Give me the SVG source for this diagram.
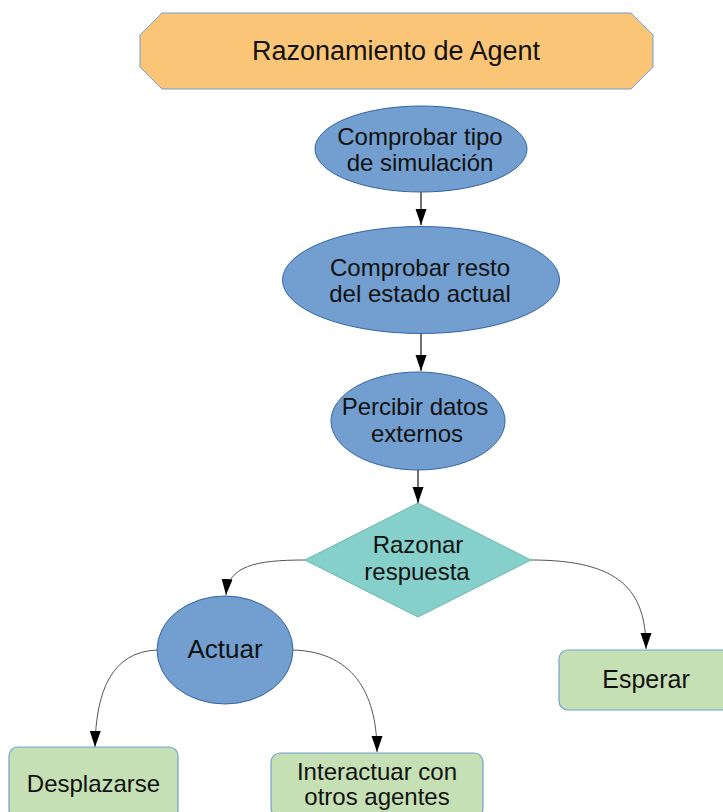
<svg xmlns="http://www.w3.org/2000/svg" width="723" height="812" viewBox="0 0 723 812">
  <defs>
    <marker id="arrow" markerUnits="userSpaceOnUse" markerWidth="17" markerHeight="12" refX="16" refY="5.5" orient="auto">
      <path d="M0,0 L16,5.5 L0,11 z" fill="#000"/>
    </marker>
    <style>
      text { font-family: "Liberation Sans", Arial, sans-serif; fill: #111; text-anchor: middle; }
      .title { fill: #fbc577; stroke: #729fcf; stroke-width: 1; }
      .step { fill: #729fcf; stroke: #3465a4; stroke-width: 1; }
      .decision { fill: #86d0cc; stroke: #6ab5b3; stroke-width: 1; }
      .action { fill: #c5e0b4; stroke: #729fcf; stroke-width: 1.2; }
      .straight { stroke: #222; stroke-width: 1.3; fill: none; marker-end: url(#arrow); }
      .curved { stroke: #555; stroke-width: 1; fill: none; marker-end: url(#arrow); }
    </style>
  </defs>
  <rect width="723" height="812" fill="#fff"/>

  <!-- connectors -->
  <g id="connectors">
    <path class="straight" d="M421,192 L421,225"/>
    <path class="straight" d="M421,333 L421,371"/>
    <path class="straight" d="M418,470 L418,503"/>
    <path class="curved" d="M305,560 C255,560 228,566 226,595"/>
    <path class="curved" d="M531,560 C620,560 646,590 646,649"/>
    <path class="curved" d="M157,650 C112,652 96,690 95,747"/>
    <path class="curved" d="M293,650 C358,652 377,700 377,752"/>
  </g>

  <g id="razonamiento">
    <polygon class="title" points="162,13 631,13 653,35 653,67 631,89 162,89 140,67 140,35"/>
    <text x="396" y="60" font-size="27">Razonamiento de Agent</text>
  </g>

  <g id="comprobar-tipo">
    <ellipse class="step" cx="421" cy="149" rx="106" ry="43"/>
    <text x="420" y="145" font-size="24">Comprobar tipo</text>
    <text x="420" y="171" font-size="24">de simulación</text>
  </g>

  <g id="comprobar-resto">
    <ellipse class="step" cx="421" cy="280" rx="138.5" ry="53.5"/>
    <text x="420" y="276" font-size="24">Comprobar resto</text>
    <text x="420" y="302" font-size="24">del estado actual</text>
  </g>

  <g id="percibir">
    <ellipse class="step" cx="418" cy="421" rx="87" ry="49"/>
    <text x="415" y="415" font-size="24">Percibir datos</text>
    <text x="417" y="442" font-size="24">externos</text>
  </g>

  <g id="razonar">
    <polygon class="decision" points="418,503 531,560 418,617 305,560"/>
    <text x="418" y="553" font-size="24">Razonar</text>
    <text x="417" y="580" font-size="24">respuesta</text>
  </g>

  <g id="actuar">
    <ellipse class="step" cx="225" cy="650" rx="68" ry="54"/>
    <text x="225" y="658" font-size="26">Actuar</text>
  </g>

  <g id="esperar">
    <rect class="action" x="559" y="650" width="174" height="60" rx="9"/>
    <text x="646" y="688" font-size="25">Esperar</text>
  </g>

  <g id="desplazarse">
    <rect class="action" x="9" y="747" width="169" height="72" rx="9"/>
    <text x="93.5" y="792" font-size="24">Desplazarse</text>
  </g>

  <g id="interactuar">
    <rect class="action" x="271" y="753" width="212" height="64" rx="9"/>
    <text x="377" y="780" font-size="24">Interactuar con</text>
    <text x="377" y="805" font-size="24">otros agentes</text>
  </g>
</svg>
